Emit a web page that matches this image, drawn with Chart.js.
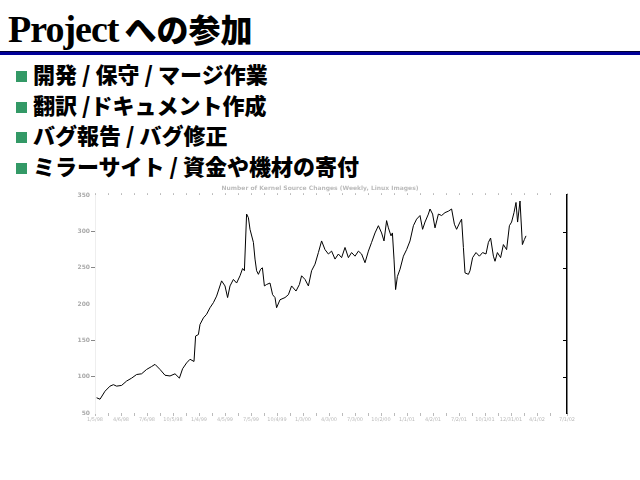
<!DOCTYPE html>
<html>
<head>
<meta charset="utf-8">
<script src="https://cdn.jsdelivr.net/npm/chart.js@4.4.1/dist/chart.umd.min.js"></script>
<style>
  html, body { margin: 0; padding: 0; background: #fff; }
  body { width: 640px; height: 480px; position: relative; overflow: hidden; }
  .title { position: absolute; left: 8px; top: 5px; white-space: nowrap; color: #000; }
  .title .en { font-family: "Liberation Serif", serif; font-weight: bold; font-size: 38px; letter-spacing: -1px; }
  .title .ja { font-family: "Noto Sans CJK JP", sans-serif; font-weight: 900; font-size: 32px; margin-left: 6px; }
  .rule { position: absolute; left: 0; top: 51px; width: 640px; height: 3px; background: #000099; border-top: 1px solid #000033; }
  .bullets { position: absolute; left: 16px; top: 60px; margin: 0; padding: 0; list-style: none; }
  .bullets li { height: 30.5px; line-height: 26px; font-family: "Noto Sans CJK JP", sans-serif; font-weight: 900; font-size: 22px; white-space: nowrap; }
  .bullets li::before { content: ""; display: inline-block; width: 11px; height: 11px; background: #339966; margin-right: 6px; vertical-align: 1px; }
  #chart { position: absolute; left: 60px; top: 180px; }
</style>
</head>
<body>
<div class="title"><span class="en">Project</span><span class="ja">への参加</span></div>
<div class="rule"></div>
<ul class="bullets">
  <li>開発 / 保守 / マージ作業</li>
  <li>翻訳 /ドキュメント作成</li>
  <li>バグ報告 / バグ修正</li>
  <li>ミラーサイト / 資金や機材の寄付</li>
</ul>
<canvas id="chart" width="520" height="245"></canvas>
<script>
// weekly samples
const weeks = [0.8,2.5,5,7.5,9.2,10.8,13.3,15.8,18.3,20.8,23.3,25.8,28.3,30,32.5,35,37.5,40,42.2,43.8,
  45.8,47.5,49.5,50.3,51.7,52.5,54.2,55.8,57.5,59.2,60.8,63.3,65,66.3,67.5,69.2,70.8,72.5,73.8,74.7,
  75.8,76.7,77.5,79.2,80,80.8,81.7,82.8,83.7,84.7,85.8,87.5,88.8,90,90.8,92.5,95,96.7,98.3,100.5,
  102.2,103.3,105,106.7,108.3,110,111.7,113.3,115,116.7,118.3,120,121.7,123.3,125,126.7,128.3,130,131.7,133.3,
  135,136.7,138.3,140,141.7,143.3,144.5,145.8,146.7,148,148.7,149.5,150.3,151.2,152.5,154.2,155.8,157.5,159.2,160.8,
  162.5,163.8,165,166.7,167.5,168.8,170,171.7,173.3,175,176.7,178.3,179.7,180.8,182.5,183.3,184.2,185,186.7,187.5,
  188.8,190.5,192.2,193.8,195.5,196.7,197.8,199.2,200,201.2,202.8,204.2,205.8,207.2,208.3,209.5,210.5,211.3,212.5,213.7,
  214.7,215.5];
const counts = [71,69,80,87,89,87,88,94,98,103,104,110,114,117,110,102,101,104,98,111,
  119,124,121,156,158,172,181,186,195,202,211,232,225,209,225,234,229,239,249,246,
  324,319,303,285,262,246,241,248,250,225,227,229,213,209,195,206,209,213,225,218,
  227,239,234,225,246,255,271,287,275,269,273,262,269,264,278,264,271,266,273,269,
  257,273,285,298,308,298,287,315,305,294,298,262,220,238,248,266,275,287,308,317,
  322,303,313,324,331,324,305,324,322,326,328,331,310,303,313,317,278,243,241,246,
  264,271,266,271,269,285,291,266,259,271,264,282,275,308,313,326,340,313,342,282,
  289,294];
const xTickLabels = ['1/5/98','4/6/98','7/6/98','10/5/98','1/4/99','4/5/99','7/5/99','10/4/99','1/3/00','4/3/00',
  '7/3/00','10/2/00','1/1/01','4/2/01','7/2/01','10/1/01','12/31/01','4/1/02','7/1/02'];
const markedTicks = [300, 250, 150, 100];
const chartTitle = 'Number of Kernel Source Changes (Weekly, Linux Images)';

// tick marks pointing into the plot from the right-hand axis
const innerTicks = {
  id: 'innerTicks',
  afterDraw(chart) {
    const s = chart.scales.y2;
    const ctx = chart.ctx;
    ctx.save();
    ctx.strokeStyle = '#000';
    ctx.lineWidth = 1;
    markedTicks.forEach(v => {
      const py = Math.round(s.getPixelForValue(v)) + 0.5;
      ctx.beginPath();
      ctx.moveTo(s.left - 4, py);
      ctx.lineTo(s.left, py);
      ctx.stroke();
    });
    ctx.restore();
  }
};

new Chart(document.getElementById('chart'), {
  type: 'line',
  data: {
    datasets: [{
      data: weeks.map((w, i) => ({ x: w, y: counts[i] })),
      borderColor: '#000',
      borderWidth: 1,
      pointRadius: 0,
      tension: 0,
      fill: false
    }]
  },
  options: {
    responsive: false,
    animation: false,
    layout: { padding: 0 },
    plugins: {
      legend: { display: false },
      tooltip: { enabled: false },
      title: {
        display: true,
        text: chartTitle,
        color: '#bbb',
        font: { size: 6, family: 'DejaVu Sans' },
        padding: { top: 5, bottom: 1 }
      }
    },
    scales: {
      x: {
        type: 'linear', position: 'bottom', min: 0, max: 236,
        afterFit: s => { s.height = 12; },
        border: { display: false },
        grid: { drawOnChartArea: false, tickLength: 3, color: '#bbb' },
        ticks: {
          stepSize: 6.5, autoSkip: false, maxRotation: 0, padding: 1,
          color: '#bbb', font: { size: 5, family: 'DejaVu Sans' },
          callback: (v, i) => (i % 2 === 0 ? xTickLabels[i / 2] || '' : '')
        }
      },
      x2: {
        type: 'linear', position: 'top', min: 0, max: 236,
        afterFit: s => { s.height = 2; },
        border: { display: false },
        grid: { drawOnChartArea: false, tickLength: 2, color: '#bbb' },
        ticks: { stepSize: 6.5, display: false }
      },
      y: {
        position: 'left', min: 50, max: 350,
        afterFit: s => { s.width = 35; },
        border: { color: '#eee' },
        grid: {
          drawOnChartArea: false, tickLength: 4,
          color: c => (markedTicks.includes(c.tick && c.tick.value) ? '#888' : 'rgba(0,0,0,0)')
        },
        ticks: { stepSize: 50, padding: 1, color: '#aaa', font: { size: 6, weight: 'bold', family: 'DejaVu Sans' } }
      },
      y2: {
        position: 'right', min: 50, max: 350,
        afterFit: s => { s.width = 13; },
        border: { color: '#000', width: 1.5 },
        grid: { drawOnChartArea: false, drawTicks: false },
        ticks: { display: false, stepSize: 50 }
      }
    }
  },
  plugins: [innerTicks]
});
</script>
</body>
</html>
